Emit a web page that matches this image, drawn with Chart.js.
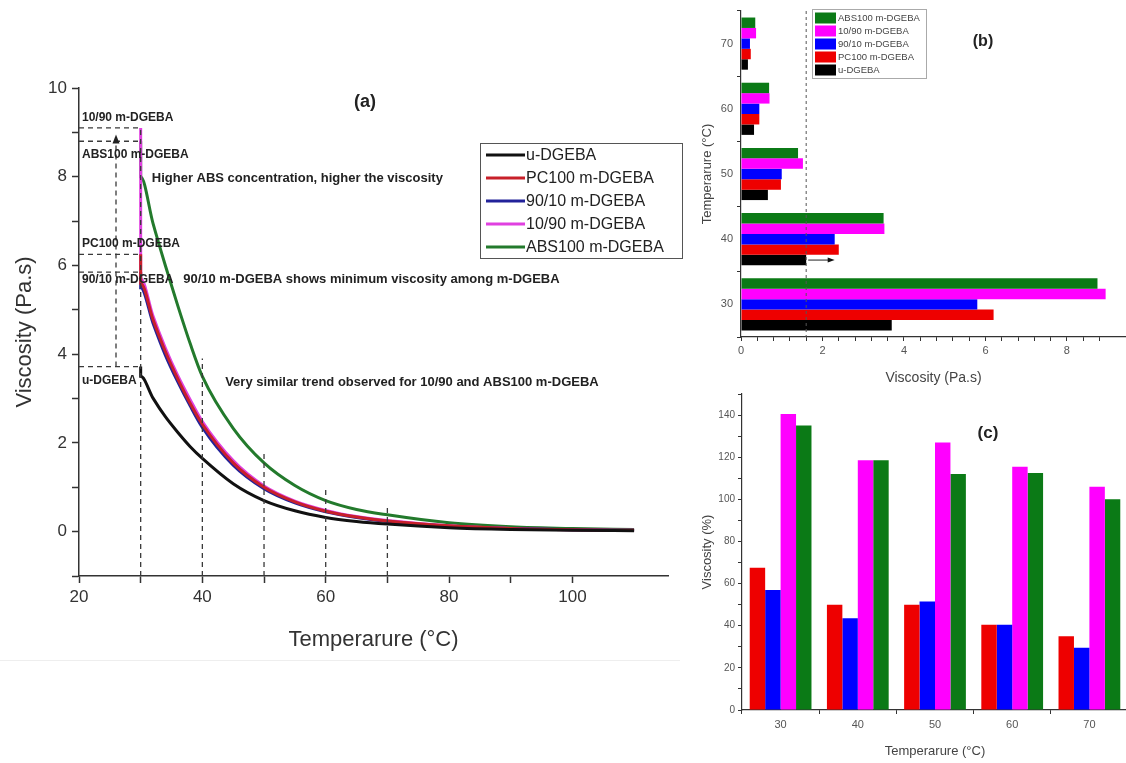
<!DOCTYPE html>
<html>
<head>
<meta charset="utf-8">
<title>Viscosity of DGEBA blends</title>
<script src="https://cdn.jsdelivr.net/npm/chart.js@4.4.1/dist/chart.umd.min.js"></script>
<style>
  html, body { margin: 0; padding: 0; background: #fff; width: 1126px; height: 763px; overflow: hidden; }
  .panel { position: absolute; }
  #wrapA { left: 0; top: 0; }
  #wrapB { left: 690px; top: 0; }
  #wrapC { left: 690px; top: 385px; }
  #sep { position: absolute; left: 0; top: 660px; width: 680px; border-top: 1px solid #eeeeee; }
</style>
</head>
<body>
<div id="sep"></div>
<div class="panel" id="wrapA"><canvas id="chartA" width="690" height="665"></canvas></div>
<div class="panel" id="wrapB"><canvas id="chartB" width="436" height="395"></canvas></div>
<div class="panel" id="wrapC"><canvas id="chartC" width="450" height="378"></canvas></div>
<script>
// ---- (a) viscosity curves ----
const curveTemps = [30, 30, 32, 34, 36, 38, 40, 45, 50, 55, 60, 65, 70, 80, 90, 100, 110];
const uDGEBA    = [3.72, 3.50, 3.01, 2.59, 2.24, 1.92, 1.65, 1.08, 0.70, 0.47, 0.32, 0.23, 0.17, 0.09, 0.05, 0.03, 0.02];
const pc100     = [6.25, 5.60, 4.78, 4.06, 3.45, 2.90, 2.42, 1.55, 1.00, 0.67, 0.46, 0.33, 0.24, 0.13, 0.07, 0.04, 0.03];
const r9010     = [5.85, 5.50, 4.70, 3.98, 3.38, 2.84, 2.35, 1.50, 0.97, 0.65, 0.45, 0.32, 0.23, 0.12, 0.07, 0.04, 0.03];
const r1090     = [9.10, 5.70, 4.86, 4.14, 3.52, 2.98, 2.48, 1.60, 1.03, 0.69, 0.48, 0.34, 0.25, 0.13, 0.07, 0.04, 0.03];
const abs100    = [8.80, 8.00, 6.95, 6.00, 5.10, 4.25, 3.50, 2.33, 1.55, 1.04, 0.70, 0.50, 0.38, 0.20, 0.11, 0.07, 0.05];
const curveNames = ['u-DGEBA', 'PC100 m-DGEBA', '90/10 m-DGEBA', '10/90 m-DGEBA', 'ABS100 m-DGEBA'];

// dashed guides in (a)
const guideTemps = [30, 40, 50, 60, 70];
const guideTops  = [9.1, 3.9, 1.75, 1.0, 0.55];
const arrowTemp = 26;

// ---- (b) viscosity at test temperatures ----
const barTemps = ['30', '40', '50', '60', '70'];
const barU     = [3.7, 1.6, 0.66, 0.32, 0.17];
const barPC    = [6.2, 2.4, 0.98, 0.45, 0.24];
const bar9010  = [5.8, 2.3, 1.0, 0.45, 0.22];
const bar1090  = [8.95, 3.52, 1.52, 0.70, 0.37];
const barABS   = [8.75, 3.5, 1.4, 0.69, 0.35];
const refViscosity = 1.6;
const arrowTo = 2.3;

// ---- (c) viscosity relative to u-DGEBA (%) ----
const pctPC   = [67.5, 50, 50, 40.5, 35];
const pct9010 = [57, 43.5, 51.5, 40.5, 29.5];
const pct1090 = [140.5, 118.5, 127, 115.5, 106];
const pctABS  = [135, 118.5, 112, 112.5, 100];

const FONT = 'Liberation Sans, Arial, sans-serif';
Chart.defaults.font.family = FONT;
Chart.defaults.animation = false;

const lineColors = ['#111111', '#c8202a', '#22229a', '#e040e0', '#237a2c'];
const barColors = { abs: '#0b7a16', m1090: '#ff00ff', m9010: '#0000ff', pc: '#ee0000', u: '#000000' };

function onStep(step) {
  return function (scale) {
    scale.ticks = scale.ticks.filter(t => Math.abs(t.value / step - Math.round(t.value / step)) < 1e-6);
  };
}
function dashed(ctx, x1, y1, x2, y2) {
  ctx.beginPath(); ctx.moveTo(x1, y1); ctx.lineTo(x2, y2); ctx.stroke();
}

// ---------- chart (a) ----------
const toPoints = vals => vals.map((v, i) => ({ x: curveTemps[i], y: v }));
const seriesA = [uDGEBA, pc100, r9010, r1090, abs100];

const annotateA = {
  id: 'annotateA',
  afterDatasetsDraw(chart) {
    const { ctx } = chart;
    const x = chart.scales.x, y = chart.scales.y;
    ctx.save();
    ctx.strokeStyle = '#3a3a3a';
    ctx.lineWidth = 1.3;
    ctx.setLineDash([5, 4]);
    guideTemps.forEach((t, i) => dashed(ctx, x.getPixelForValue(t), y.getPixelForValue(-1), x.getPixelForValue(t), y.getPixelForValue(guideTops[i])));
    seriesA.forEach(s => dashed(ctx, x.getPixelForValue(20), y.getPixelForValue(s[0]), x.getPixelForValue(30), y.getPixelForValue(s[0])));
    const ax = x.getPixelForValue(arrowTemp);
    const aTop = y.getPixelForValue(abs100[0] + 0.15);
    dashed(ctx, ax, y.getPixelForValue(uDGEBA[0]), ax, aTop + 6);
    ctx.setLineDash([]);
    ctx.fillStyle = '#222';
    ctx.beginPath(); ctx.moveTo(ax, aTop); ctx.lineTo(ax - 3.5, aTop + 9); ctx.lineTo(ax + 3.5, aTop + 9); ctx.closePath(); ctx.fill();

    // start-value labels
    ctx.font = 'bold 12px ' + FONT;
    ctx.textBaseline = 'middle';
    ctx.textAlign = 'left';
    const lx = x.getPixelForValue(20) + 3;
    [['10/90 m-DGEBA', 9.32], ['ABS100 m-DGEBA', 8.49], ['PC100 m-DGEBA', 6.48], ['90/10 m-DGEBA', 5.69], ['u-DGEBA', 3.41]]
      .forEach(([t, v]) => ctx.fillText(t, lx, y.getPixelForValue(v)));

    // observations
    ctx.font = 'bold 13px ' + FONT;
    ctx.fillText('Higher ABS concentration, higher the viscosity', x.getPixelForValue(31.8), y.getPixelForValue(7.97));
    ctx.fillText('90/10 m-DGEBA shows minimum viscosity among m-DGEBA', x.getPixelForValue(36.9), y.getPixelForValue(5.69));
    ctx.fillText('Very similar trend observed for 10/90 and ABS100 m-DGEBA', x.getPixelForValue(43.7), y.getPixelForValue(3.36));

    ctx.font = 'bold 18px ' + FONT;
    ctx.textAlign = 'center';
    ctx.fillText('(a)', 365, 102);

    // legend box
    ctx.lineWidth = 1;
    ctx.strokeStyle = '#555';
    ctx.strokeRect(480.5, 143.5, 202, 115);
    ctx.font = '16px ' + FONT;
    ctx.textAlign = 'left';
    ctx.fillStyle = '#222';
    chart.data.datasets.forEach((ds, i) => {
      const ry = 155 + i * 23;
      ctx.strokeStyle = ds.borderColor;
      ctx.lineWidth = 3;
      dashed(ctx, 486, ry, 525, ry);
      ctx.fillText(ds.label, 526, ry + 1);
    });
    ctx.restore();
  }
};

new Chart(document.getElementById('chartA'), {
  type: 'line',
  data: {
    datasets: seriesA.map((s, i) => ({
      label: curveNames[i],
      data: toPoints(s),
      borderColor: lineColors[i],
      borderWidth: 3,
      pointRadius: 0,
      cubicInterpolationMode: 'monotone',
      fill: false
    }))
  },
  options: {
    responsive: false,
    devicePixelRatio: 1,
    layout: { padding: { top: 88, right: 22, left: 0, bottom: 0 } },
    plugins: { legend: { display: false }, tooltip: { enabled: false } },
    scales: {
      x: {
        type: 'linear', min: 20, max: 115.5,
        afterBuildTicks: onStep(10),
        afterFit: s => { s.height = 89; },
        ticks: { stepSize: 10, color: '#333', font: { size: 17 }, padding: 4, maxRotation: 0,
                 callback: v => (v % 20 === 0 ? v : '') },
        grid: { drawOnChartArea: false, tickLength: 7, tickColor: '#333', tickWidth: 1.5 },
        border: { color: '#333', width: 1.5 },
        title: { display: true, text: 'Temperarure (°C)', color: '#333', font: { size: 22 }, padding: { top: 0, bottom: 12 } }
      },
      y: {
        min: -1, max: 10,
        afterBuildTicks: onStep(1),
        afterFit: s => { s.width = 79; },
        ticks: { stepSize: 1, color: '#333', font: { size: 17 }, padding: 5,
                 callback: v => (v % 2 === 0 ? v : '') },
        grid: { drawOnChartArea: false, tickLength: 7, tickColor: '#333', tickWidth: 1.5 },
        border: { color: '#333', width: 1.5 },
        title: { display: true, text: 'Viscosity (Pa.s)', color: '#333', font: { size: 22 }, padding: { top: 12, bottom: 0 } }
      }
    }
  },
  plugins: [annotateA]
});

// ---------- chart (b) ----------
const annotateB = {
  id: 'annotateB',
  afterDatasetsDraw(chart) {
    const { ctx, chartArea } = chart;
    const x = chart.scales.x;
    ctx.save();
    ctx.strokeStyle = '#555';
    ctx.lineWidth = 1;
    ctx.setLineDash([3, 3]);
    const rx = x.getPixelForValue(refViscosity);
    dashed(ctx, rx, chartArea.top, rx, chartArea.bottom);
    ctx.setLineDash([]);
    // arrow at 40 °C u-DGEBA bar
    const bar = chart.getDatasetMeta(4).data[1];
    const ax2 = x.getPixelForValue(arrowTo);
    ctx.strokeStyle = '#222';
    dashed(ctx, rx + 2, bar.y, ax2 - 4, bar.y);
    ctx.fillStyle = '#111';
    ctx.beginPath(); ctx.moveTo(ax2, bar.y); ctx.lineTo(ax2 - 7, bar.y - 2.5); ctx.lineTo(ax2 - 7, bar.y + 2.5); ctx.closePath(); ctx.fill();

    // legend
    ctx.fillStyle = '#fff';
    ctx.fillRect(122, 9, 114, 69);
    ctx.strokeStyle = '#aaa';
    ctx.strokeRect(122.5, 9.5, 114, 69);
    ctx.font = '9.5px ' + FONT;
    ctx.textBaseline = 'middle';
    ctx.textAlign = 'left';
    chart.data.datasets.forEach((ds, i) => {
      const ry = 18 + i * 13;
      ctx.fillStyle = ds.backgroundColor;
      ctx.fillRect(125, ry - 5.5, 21, 11);
      ctx.fillStyle = '#444';
      ctx.fillText(ds.label, 148, ry);
    });
    ctx.font = 'bold 16px ' + FONT;
    ctx.fillStyle = '#222';
    ctx.textAlign = 'center';
    ctx.fillText('(b)', 293, 42);
    ctx.restore();
  }
};

new Chart(document.getElementById('chartB'), {
  type: 'bar',
  data: {
    labels: barTemps,
    datasets: [
      { label: 'ABS100 m-DGEBA', data: barABS, backgroundColor: barColors.abs },
      { label: '10/90 m-DGEBA', data: bar1090, backgroundColor: barColors.m1090 },
      { label: '90/10 m-DGEBA', data: bar9010, backgroundColor: barColors.m9010 },
      { label: 'PC100 m-DGEBA', data: barPC, backgroundColor: barColors.pc },
      { label: 'u-DGEBA', data: barU, backgroundColor: barColors.u }
    ]
  },
  options: {
    indexAxis: 'y',
    responsive: false,
    devicePixelRatio: 1,
    layout: { padding: { top: 11, right: 0, left: 0, bottom: 0 } },
    datasets: { bar: { categoryPercentage: 0.8, barPercentage: 1.0 } },
    plugins: { legend: { display: false }, tooltip: { enabled: false } },
    scales: {
      x: {
        type: 'linear', min: 0, max: 9.45,
        afterBuildTicks: onStep(0.4),
        afterFit: s => { s.height = 58; },
        ticks: { stepSize: 0.4, color: '#555', font: { size: 11 }, padding: 3, maxRotation: 0, autoSkip: false,
                 callback: v => (Math.abs(v / 2 - Math.round(v / 2)) < 1e-6 ? Math.round(v) : '') },
        grid: { drawOnChartArea: false, tickLength: 4, tickColor: '#333' },
        border: { color: '#333', width: 1.2 },
        title: { display: true, text: 'Viscosity (Pa.s)', color: '#444', font: { size: 14 }, padding: { top: 0, bottom: 8 } }
      },
      y: {
        reverse: true,
        afterFit: s => { s.width = 51; },
        ticks: { color: '#555', font: { size: 11 }, padding: 4 },
        grid: { offset: true, drawOnChartArea: false, tickLength: 4, tickColor: '#333' },
        border: { color: '#333', width: 1.2 },
        title: { display: true, text: 'Temperarure (°C)', color: '#444', font: { size: 13 }, padding: { top: 10, bottom: 0 } }
      }
    }
  },
  plugins: [annotateB]
});

// ---------- chart (c) ----------
const annotateC = {
  id: 'annotateC',
  afterDraw(chart) {
    const { ctx } = chart;
    ctx.save();
    ctx.font = 'bold 17px ' + FONT;
    ctx.fillStyle = '#222';
    ctx.textAlign = 'center';
    ctx.textBaseline = 'middle';
    ctx.fillText('(c)', 298, 48);
    ctx.restore();
  }
};

new Chart(document.getElementById('chartC'), {
  type: 'bar',
  data: {
    labels: barTemps,
    datasets: [
      { label: 'PC100 m-DGEBA', data: pctPC, backgroundColor: barColors.pc },
      { label: '90/10 m-DGEBA', data: pct9010, backgroundColor: barColors.m9010 },
      { label: '10/90 m-DGEBA', data: pct1090, backgroundColor: barColors.m1090 },
      { label: 'ABS100 m-DGEBA', data: pctABS, backgroundColor: barColors.abs }
    ]
  },
  options: {
    responsive: false,
    devicePixelRatio: 1,
    layout: { padding: { top: 9, right: 12, left: 0, bottom: 0 } },
    datasets: { bar: { categoryPercentage: 0.8, barPercentage: 1.0 } },
    plugins: { legend: { display: false }, tooltip: { enabled: false } },
    scales: {
      x: {
        afterFit: s => { s.height = 53; },
        ticks: { color: '#555', font: { size: 11 }, padding: 4, maxRotation: 0 },
        grid: { offset: true, drawOnChartArea: false, tickLength: 4, tickColor: '#333' },
        border: { color: '#333', width: 1.2 },
        title: { display: true, text: 'Temperarure (°C)', color: '#444', font: { size: 13 }, padding: { top: 8 } }
      },
      y: {
        min: 0, max: 150,
        afterBuildTicks: onStep(10),
        afterFit: s => { s.width = 52; },
        ticks: { stepSize: 10, color: '#555', font: { size: 10 }, padding: 3,
                 callback: v => (v % 20 === 0 ? v : '') },
        grid: { drawOnChartArea: false, tickLength: 4, tickColor: '#333' },
        border: { color: '#333', width: 1.2 },
        title: { display: true, text: 'Viscosity (%)', color: '#444', font: { size: 13 }, padding: { top: 10, bottom: 0 } }
      }
    }
  },
  plugins: [annotateC]
});
</script>
</body>
</html>
